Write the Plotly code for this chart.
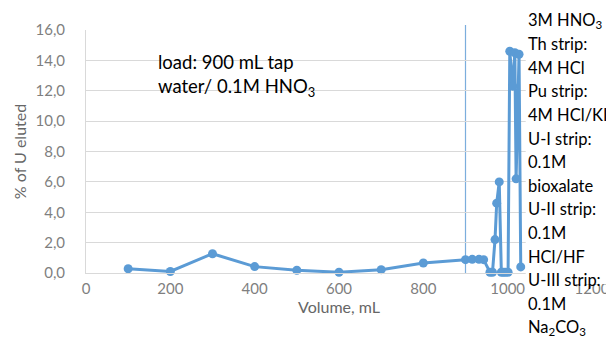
import plotly.graph_objects as go

# ---- data ----
volume_ml = [100, 200, 300, 400, 500, 600, 700, 800, 900, 916, 932, 943,
             958, 964, 970, 974, 980, 985, 990, 995, 1001,
             1005, 1012, 1017, 1020, 1027, 1031]
pct_u_eluted = [0.28, 0.10, 1.27, 0.42, 0.18, 0.05, 0.22, 0.66, 0.88, 0.90, 0.90, 0.88,
                0.05, 0.05, 2.2, 4.6, 6.0, 0.05, 0.05, 0.05, 0.05,
                14.6, 12.3, 14.5, 6.2, 14.4, 0.40]
load_volume = 900

x_tick_vals = [0, 200, 400, 600, 800, 1000, 1200]
y_tick_vals = [0, 2, 4, 6, 8, 10, 12, 14, 16]
y_tick_text = ["0,0", "2,0", "4,0", "6,0", "8,0", "10,0", "12,0", "14,0", "16,0"]

load_text = "load: 900 mL tap<br>water/ 0.1M HNO<sub>3</sub>"
strip_lines = ["3M HNO<sub>3</sub>", "Th strip:", "4M HCl", "Pu strip:", "4M HCl/KI",
               "U-I strip:", "0.1M", "bioxalate", "U-II strip:", "0.1M", "HCl/HF",
               "U-III strip:", "0.1M", "Na<sub>2</sub>CO<sub>3</sub>"]

BLUE = "#5B9BD5"
FONT = "Lato"

fig = go.Figure()
fig.add_trace(go.Scatter(
    x=volume_ml, y=pct_u_eluted, mode="lines+markers",
    line=dict(color=BLUE, width=3),
    marker=dict(color=BLUE, size=9),
    cliponaxis=False, showlegend=False,
))

W, H = 614, 338
ml, mr, mt, mb = 77, 18, 22, 73
pw, ph = W - ml - mr, H - mt - mb

def px_x(p):
    return (p - ml) / pw

def px_y(p):
    return (H - mb - p) / ph

fig.add_shape(type="line", xref="x", yref="paper", x0=load_volume, x1=load_volume,
              y0=0, y1=px_y(17), line=dict(color=BLUE, width=1.2), opacity=0.8,
              layer="between")

# white box behind the right-hand text
fig.add_shape(type="rect", xref="paper", yref="paper",
              x0=px_x(528), x1=px_x(W + 5), y0=px_y(276), y1=px_y(-5),
              fillcolor="white", line=dict(width=0), layer="above")

for i, line in enumerate(strip_lines):
    fig.add_annotation(xref="paper", yref="paper", x=px_x(529), y=px_y(12.5 + 23.6 * i),
                       xanchor="left", yanchor="middle", align="left", showarrow=False,
                       text=line, borderpad=0,
                       font=dict(family=FONT, size=16.5, color="#000000"))

fig.add_annotation(xref="paper", yref="paper", x=px_x(149), y=px_y(41),
                   xanchor="left", yanchor="top", align="left", showarrow=False,
                   text=load_text,
                   font=dict(family=FONT, size=18.5, color="#000000"))

fig.update_layout(
    width=W, height=H,
    margin=dict(l=ml, r=mr, t=mt, b=mb),
    paper_bgcolor="white", plot_bgcolor="white",
    font=dict(family=FONT, color="#7F7F7F"),
    xaxis=dict(range=[0, 1200], tickvals=x_tick_vals, showgrid=False,
               showline=True, linecolor="#D9D9D9", linewidth=1,
               ticks="", ticklabelstandoff=2,
               tickfont=dict(size=15, color="#7F7F7F"),
               title=dict(text="Volume, mL", font=dict(size=16, color="#666666"), standoff=4),
               zeroline=False),
    yaxis=dict(range=[0, 16], tickvals=y_tick_vals, ticktext=y_tick_text,
               showgrid=True, gridcolor="#D9D9D9", gridwidth=1,
               showline=True, linecolor="#D9D9D9", linewidth=1,
               ticks="", ticklabelstandoff=17,
               tickfont=dict(size=15, color="#7F7F7F"),
               title=dict(text="% of U eluted", font=dict(size=16, color="#666666"), standoff=4),
               zeroline=False),
)

fig.write_html("out.html")
